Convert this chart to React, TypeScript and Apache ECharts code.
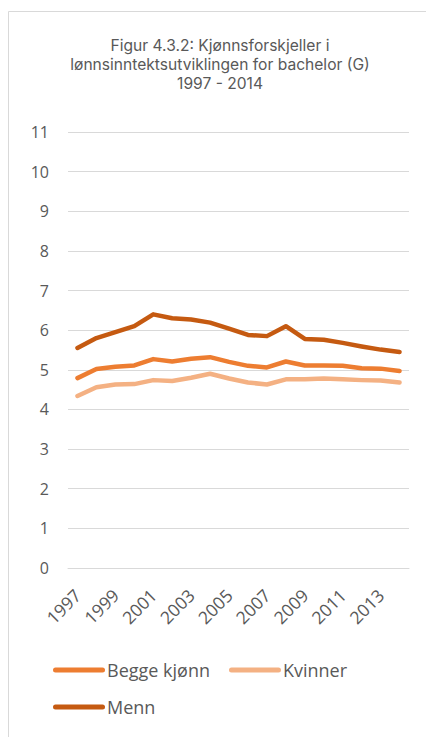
import React, { useEffect, useRef } from "react";
import * as echarts from "echarts";

const years = [
  "1997", "1998", "1999", "2000", "2001", "2002", "2003", "2004", "2005",
  "2006", "2007", "2008", "2009", "2010", "2011", "2012", "2013", "2014",
];
const beggeKjonn = [4.79, 5.02, 5.08, 5.11, 5.27, 5.21, 5.28, 5.32, 5.2, 5.1, 5.06, 5.21, 5.11, 5.11, 5.1, 5.04, 5.03, 4.97];
const kvinner = [4.34, 4.56, 4.63, 4.64, 4.74, 4.72, 4.8, 4.9, 4.78, 4.68, 4.63, 4.76, 4.76, 4.78, 4.76, 4.74, 4.73, 4.68];
const menn = [5.55, 5.8, 5.95, 6.1, 6.4, 6.3, 6.27, 6.19, 6.04, 5.88, 5.85, 6.1, 5.78, 5.76, 5.68, 5.59, 5.51, 5.45];
const seriesNames = ["Begge kjønn", "Kvinner", "Menn"];
const titleLines = ["Figur 4.3.2: Kjønnsforskjeller i", "lønnsinntektsutviklingen for bachelor (G)", "1997 - 2014"];

const FONT = '"Open Sans", "Noto Sans", sans-serif';
const TITLE_FONT = 'Inter, "Open Sans", sans-serif';
const TEXT = "#595959";
const GRID = "#D9D9D9";
const COLORS = ["#ED7D31", "#F4B183", "#C55A11"];
const LEGEND_ICON = "path://M2.5,0H49.5A2.5,2.5,0,0,1,49.5,5H2.5A2.5,2.5,0,0,1,2.5,0Z";

export default function App() {
  const ref = useRef<HTMLDivElement>(null);

  useEffect(() => {
    if (!ref.current) return;
    const chart = echarts.init(ref.current, undefined, { renderer: "svg" });
    const data = [beggeKjonn, kvinner, menn];
    chart.setOption({
      animation: false,
      backgroundColor: "#ffffff",
      textStyle: { fontFamily: FONT },
      graphic: [
        {
          type: "rect",
          silent: true,
          shape: { x: 8.5, y: 11.5, width: 600, height: 900 },
          style: { fill: "none", stroke: GRID, lineWidth: 1 },
        },
        // one text per title line
        ...titleLines.map((line, i) => ({
          type: "text",
          x: 220,
          y: 53 + i * 19.3,
          style: {
            text: line,
            textAlign: "center",
            textVerticalAlign: "bottom",
            fontFamily: TITLE_FONT,
            fontSize: 15.6,
            fill: TEXT,
          },
        })),
      ],
      grid: { left: 68, right: 17, top: 132, bottom: 169 },
      legend: {
        data: seriesNames,
        left: 48,
        top: 656,
        width: 340,
        itemWidth: 52,
        itemHeight: 5,
        itemGap: 19,
        icon: LEGEND_ICON,
        textStyle: { color: TEXT, fontSize: 18, fontFamily: FONT, padding: [0, 0, 0, -3] },
      },
      xAxis: {
        type: "category",
        data: years,
        boundaryGap: true,
        axisLine: { show: true, lineStyle: { color: GRID, width: 1 } },
        axisTick: { show: false },
        axisLabel: {
          interval: 1,
          rotate: 45,
          margin: 24,
          color: TEXT,
          fontSize: 17.5,
          fontFamily: FONT,
        },
      },
      yAxis: {
        type: "value",
        min: 0,
        max: 11,
        interval: 1,
        axisLine: { show: false },
        axisTick: { show: false },
        splitLine: { lineStyle: { color: GRID, width: 1 } },
        axisLabel: { margin: 19, color: TEXT, fontSize: 16, fontFamily: FONT },
      },
      series: seriesNames.map((name, i) => ({
        name,
        type: "line",
        data: data[i],
        symbol: "none",
        color: COLORS[i],
        lineStyle: { color: COLORS[i], width: 4.5, cap: "round", join: "round" },
        itemStyle: { color: COLORS[i] },
      })),
    });
    return () => chart.dispose();
  }, []);

  return (
    <div
      ref={ref}
      style={{ position: "absolute", left: 0, top: 0, width: 426, height: 737 }}
    />
  );
}
